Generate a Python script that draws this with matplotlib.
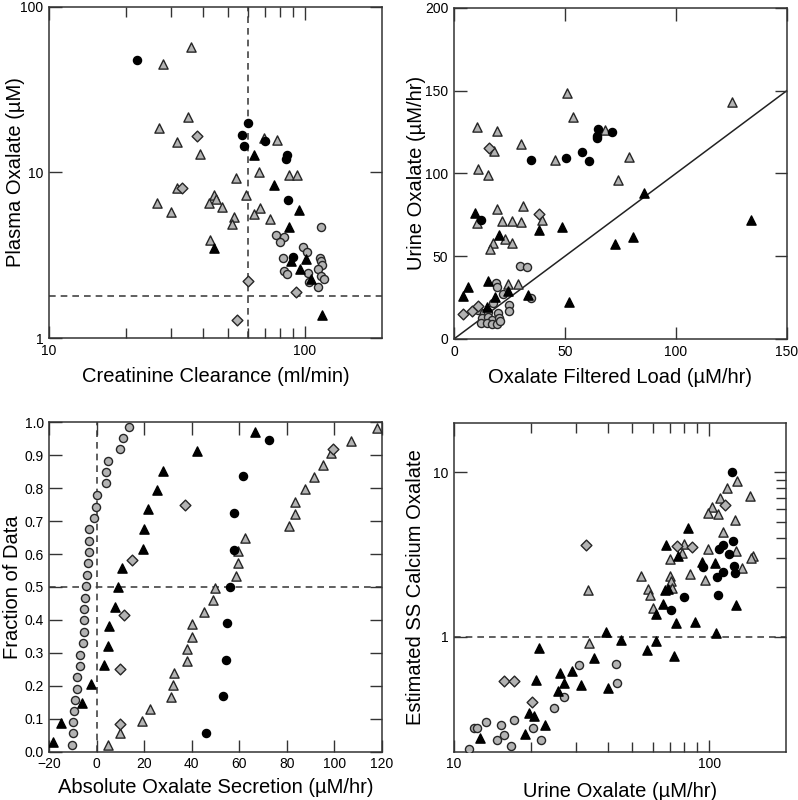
import matplotlib.pyplot as plt
from matplotlib.ticker import FixedLocator, NullFormatter

plt.rcParams['font.family'] = ['Liberation Sans', 'DejaVu Sans']

# ---- top left: plasma oxalate vs creatinine clearance ----
tl_bc_x = [22, 60, 57, 58, 69.5, 85, 84, 86, 89.5]
tl_bc_y = [48, 19.8, 16.9, 14.5, 15.5, 12.7, 12.1, 6.8, 3.1]
tl_bt_x = [63, 76, 95, 87, 44, 88, 101, 95.5, 106, 117]
tl_bt_y = [12.8, 8.4, 5.9, 4.7, 3.5, 2.9, 3.0, 2.6, 2.27, 1.38]
tl_gc_x = [116, 77, 83, 80, 98, 102, 82, 114, 116, 117, 112, 83, 85, 103, 116, 119, 104, 112]
tl_gc_y = [4.7, 4.2, 4.1, 3.8, 3.55, 3.3, 3.05, 3.05, 2.9, 2.75, 2.6, 2.55, 2.44, 2.47, 2.36, 2.27, 2.17, 2.02]
tl_gt_x = [28, 36, 27, 35, 31.5, 39, 69, 78, 66, 87, 93, 54, 31.6, 44, 45, 59,
           26.5, 30, 42, 47.5, 66.5, 63, 53, 52, 73, 42.5]
tl_gt_y = [45, 57, 18.6, 21.6, 15.2, 13, 16.2, 15.6, 10, 9.7, 9.6, 9.3, 8.1, 7.3, 6.9, 7.3,
           6.5, 5.8, 6.5, 6.2, 6.1, 5.6, 5.4, 4.9, 5.2, 3.9]
tl_gd_x = [38, 33, 60, 92.5, 54.5]
tl_gd_y = [16.5, 8.1, 2.2, 1.9, 1.29]

# ---- top right: urine oxalate vs filtered load ----
tr_bc_x = [34.7, 50.5, 57.7, 61, 65, 64.6, 64.5, 71.4, 12.2]
tr_bc_y = [108.1, 109.5, 113.1, 107.3, 126.9, 122.8, 121.2, 124.8, 72]
tr_bt_x = [85.6, 9.3, 20.3, 38.3, 48.8, 72.5, 80.6, 133.8, 51.9, 4.2, 6.5, 15.5, 24.5, 18.5, 33.5, 14.9]
tr_bt_y = [88.1, 75.8, 62.9, 65.9, 67.8, 57.3, 61.7, 72, 22.4, 26, 31.3, 35.3, 29.2, 25.6, 26.8, 19.4]
tr_gc_x = [29.9, 32.9, 19.1, 19.5, 22, 34.9, 17.7, 24.7, 24.8, 11, 13.7, 15.5, 20, 12.8, 15.5,
           17.3, 20.3, 12.2, 14.9, 17.3, 19.4, 20.7]
tr_gc_y = [44.2, 43.4, 33.7, 31.3, 27.2, 25, 22, 20.6, 16.8, 17.5, 15.5, 16.5, 15.5, 12.5, 13.5,
           11.5, 12.5, 9.9, 9.5, 8.9, 9.1, 11.1]
tr_gt_x = [10.4, 10.7, 15.3, 17.9, 19.3, 30.1, 45.7, 51, 53.8, 68, 78.8, 73.8, 125.3, 10.2, 19.3,
           21.5, 23, 17.4, 16.2, 26.3, 26, 31.1, 30.4, 39.7, 24.2, 28.7]
tr_gt_y = [128.1, 102.7, 99, 113.3, 125.8, 117.8, 108.1, 148.6, 134.1, 126.2, 109.9, 96, 142.8, 69.8, 78.5,
           71.2, 60.5, 57.9, 54.4, 71.2, 58.1, 80.3, 70.8, 71.8, 33.1, 33.1]
tr_gd_x = [15.9, 38.3, 4.2, 8.1, 10.7]
tr_gd_y = [115.5, 75.6, 15.3, 17.1, 20.1]

# ---- bottom left: cumulative fraction of secretion ----
bl_gc_x = [13.6, 11.0, 9.9, 4.9, 4.0, 3.9, 0, -0.3, -1.0, -3.2, -3.2, -3.4, -3.7, -4.0, -4.4,
           -4.8, -5.3, -5.3, -5.5, -5.9, -7.1, -7.1, -8.2, -8.5, -9.2, -9.6, -9.9, -10.1, -10.4]
bl_gc_y = [0.987, 0.951, 0.918, 0.883, 0.848, 0.815, 0.778, 0.744, 0.709, 0.676, 0.641, 0.606, 0.572,
           0.536, 0.503, 0.466, 0.432, 0.399, 0.363, 0.329, 0.294, 0.260, 0.226, 0.191, 0.158, 0.124,
           0.089, 0.056, 0.021]
bl_bt_x = [66.5, 42.2, 27.8, 25.5, 21.7, 20, 19.3, 10.7, 8.9, 7.5, 5.0, 4.9, 3.0, -2.6, -6.4, -15.1, -18.6]
bl_bt_y = [0.971, 0.912, 0.853, 0.794, 0.736, 0.676, 0.616, 0.558, 0.499, 0.438, 0.382, 0.322,
           0.264, 0.206, 0.147, 0.088, 0.029]
bl_bc_x = [72.4, 61.5, 57.9, 57.9, 56.1, 54.7, 54.3, 53.0, 46.0]
bl_bc_y = [0.946, 0.836, 0.724, 0.612, 0.500, 0.390, 0.278, 0.168, 0.058]
bl_gd_x = [99.4, 37.2, 14.7, 11.6, 9.8, 9.8]
bl_gd_y = [0.918, 0.750, 0.582, 0.416, 0.250, 0.084]
bl_gt_x = [117.9, 107.1, 98.7, 95.4, 91.6, 87.7, 83.5, 83.5, 80.8, 62.4, 59.5, 59.4, 58.8, 49.8,
           49, 45.2, 40.2, 40.1, 38, 37.9, 32.4, 32, 31.4, 22.4, 19.2, 9.8, 4.9]
bl_gt_y = [0.981, 0.943, 0.906, 0.869, 0.833, 0.797, 0.759, 0.721, 0.684, 0.648, 0.610, 0.572, 0.534,
           0.498, 0.461, 0.423, 0.387, 0.349, 0.313, 0.275, 0.239, 0.202, 0.165, 0.130, 0.092, 0.056, 0.019]

# ---- bottom right: SS calcium oxalate vs urine oxalate ----
br_bc_x = [123, 113, 109, 124, 120, 94.5, 125, 126, 113, 107, 80, 108, 71]
br_bc_y = [10, 3.62, 3.43, 3.8, 3.17, 2.67, 2.7, 2.45, 2.49, 2.29, 1.75, 1.8, 1.46]
br_gt_x = [129, 118, 144, 110, 103, 99, 108, 126, 113, 80, 99, 127, 149, 146, 78, 70, 135, 84, 96,
           54, 70.5, 71, 71.5, 33.4, 57.5, 58.4, 60, 33.7]
br_gt_y = [8.8, 8.0, 7.2, 7.0, 6.1, 5.65, 5.6, 5.1, 4.3, 3.66, 3.4, 3.3, 3.08, 3.0, 3.24, 2.96, 2.62,
           2.42, 2.2, 2.35, 2.35, 2.17, 1.97, 1.93, 1.95, 1.78, 1.5, 0.92]
br_bt_x = [83, 67.6, 75.5, 94, 105, 67.3, 69, 66, 62, 128, 74, 88, 106, 39.4, 45, 62, 57, 73, 21.6,
           35.4, 29, 26, 21, 27, 31.6, 40, 25.6, 19.6, 20.5, 22.7, 18.9, 12.6]
br_bt_y = [4.6, 3.6, 3.08, 2.85, 2.8, 1.93, 1.95, 1.57, 1.37, 1.56, 1.21, 1.22, 1.05, 1.07, 0.96,
           0.94, 0.83, 0.76, 0.85, 0.74, 0.62, 0.60, 0.545, 0.525, 0.51, 0.485, 0.47, 0.344, 0.33,
           0.29, 0.256, 0.243]
br_gd_x = [115, 33, 75, 86, 15.7, 17.2, 20.2]
br_gd_y = [6.3, 3.6, 3.55, 3.5, 0.535, 0.535, 0.40]
br_gc_x = [31, 43, 43.4, 27, 24.6, 20.4, 12, 12.3, 13.4, 15.3, 17.2, 15.7, 14.8, 21.9, 16.7, 11.4]
br_gc_y = [0.67, 0.68, 0.52, 0.43, 0.37, 0.28, 0.278, 0.28, 0.305, 0.29, 0.31, 0.254, 0.234, 0.234,
           0.217, 0.209]

GRAY = '#b3b3b3'
EDGE = '#262626'
DASH = (0, (4, 3))

STYLES = {
    'gc': dict(marker='o', s=34, c=GRAY, edgecolors=EDGE),
    'gt': dict(marker='^', s=44, c=GRAY, edgecolors=EDGE),
    'gd': dict(marker='D', s=30, c=GRAY, edgecolors=EDGE),
    'bt': dict(marker='^', s=44, c='black', edgecolors='black'),
    'bc': dict(marker='o', s=34, c='black', edgecolors='black'),
}


def pts(ax, x, y, kind):
    ax.scatter(x, y, linewidths=1.0, zorder=3, **STYLES[kind])


def frame(ax):
    for s in ax.spines.values():
        s.set_linewidth(1.1)
        s.set_color('#333333')
    ax.tick_params(which='both', direction='in', top=True, right=True,
                   labelsize=10, width=1.0, color='#333333', pad=4)
    ax.tick_params(which='major', length=9)
    ax.tick_params(which='minor', length=7)


fig = plt.figure(figsize=(7.98, 8.0), dpi=100)
LABEL = 14.5

# top left
ax = fig.add_axes([0.0614, 0.5775, 0.4173, 0.414])
ax.set_xscale('log')
ax.set_yscale('log')
ax.set_xlim(10, 200)
ax.set_ylim(1, 100)
ax.axvline(60, color='#444444', ls=DASH, lw=1.2, zorder=1)
ax.axhline(1.8, color='#444444', ls=DASH, lw=1.2, zorder=1)
pts(ax, tl_gt_x, tl_gt_y, 'gt')
pts(ax, tl_gc_x, tl_gc_y, 'gc')
pts(ax, tl_gd_x, tl_gd_y, 'gd')
pts(ax, tl_bt_x, tl_bt_y, 'bt')
pts(ax, tl_bc_x, tl_bc_y, 'bc')
ax.xaxis.set_major_locator(FixedLocator([10, 100]))
ax.xaxis.set_minor_locator(FixedLocator([20, 30, 40, 50, 60, 70, 80, 90]))
ax.set_xticklabels(['10', '100'])
ax.xaxis.set_minor_formatter(NullFormatter())
ax.yaxis.set_major_locator(FixedLocator([1, 10, 100]))
ax.yaxis.set_minor_locator(FixedLocator([]))
ax.set_yticklabels(['1', '10', '100'])
frame(ax)
ax.set_xlabel('Creatinine Clearance (ml/min)', fontsize=LABEL, labelpad=7)
ax.set_ylabel('Plasma Oxalate (µM)', fontsize=LABEL)
ax.yaxis.set_label_coords(-0.072, 0.5)

# top right
ax = fig.add_axes([0.5689, 0.5763, 0.4173, 0.414])
ax.set_xlim(0, 150)
ax.set_ylim(0, 200)
ax.plot([0, 150], [0, 150], color='#222222', lw=1.1, zorder=1)
pts(ax, tr_gt_x, tr_gt_y, 'gt')
pts(ax, tr_gc_x, tr_gc_y, 'gc')
pts(ax, tr_gd_x, tr_gd_y, 'gd')
pts(ax, tr_bt_x, tr_bt_y, 'bt')
pts(ax, tr_bc_x, tr_bc_y, 'bc')
ax.set_xticks([0, 50, 100, 150])
ax.set_yticks([0, 50, 100, 150, 200])
frame(ax)
ax.set_xlabel('Oxalate Filtered Load (µM/hr)', fontsize=LABEL, labelpad=7)
ax.set_ylabel('Urine Oxalate (µM/hr)', fontsize=LABEL)
ax.yaxis.set_label_coords(-0.085, 0.5)

# bottom left
ax = fig.add_axes([0.0618, 0.0604, 0.4166, 0.4118])
ax.set_xlim(-20, 120)
ax.set_ylim(0, 1.0)
ax.axvline(0, color='#444444', ls=DASH, lw=1.2, zorder=1)
ax.axhline(0.5, color='#444444', ls=DASH, lw=1.2, zorder=1)
pts(ax, bl_gt_x, bl_gt_y, 'gt')
pts(ax, bl_gc_x, bl_gc_y, 'gc')
pts(ax, bl_gd_x, bl_gd_y, 'gd')
pts(ax, bl_bt_x, bl_bt_y, 'bt')
pts(ax, bl_bc_x, bl_bc_y, 'bc')
ax.set_xticks(range(-20, 121, 20))
ax.set_yticks([i / 10 for i in range(11)])
ax.set_yticklabels(['%.1f' % (i / 10) for i in range(11)])
frame(ax)
ax.set_xlabel('Absolute Oxalate Secretion (µM/hr)', fontsize=LABEL, labelpad=5)
ax.set_ylabel('Fraction of Data', fontsize=LABEL)
ax.yaxis.set_label_coords(-0.082, 0.5)

# bottom right
ax = fig.add_axes([0.5689, 0.0604, 0.416, 0.4113])
ax.set_xscale('log')
ax.set_yscale('log')
ax.set_xlim(10, 200)
ax.set_ylim(0.2, 20)
ax.axhline(1, color='#444444', ls=DASH, lw=1.2, zorder=1)
pts(ax, br_gt_x, br_gt_y, 'gt')
pts(ax, br_gc_x, br_gc_y, 'gc')
pts(ax, br_gd_x, br_gd_y, 'gd')
pts(ax, br_bt_x, br_bt_y, 'bt')
pts(ax, br_bc_x, br_bc_y, 'bc')
ax.xaxis.set_major_locator(FixedLocator([10, 100]))
ax.xaxis.set_minor_locator(FixedLocator([20, 30, 40, 50, 60, 70, 80, 90]))
ax.set_xticklabels(['10', '100'])
ax.xaxis.set_minor_formatter(NullFormatter())
ax.yaxis.set_major_locator(FixedLocator([1, 10]))
ax.yaxis.set_minor_locator(FixedLocator([2, 3, 4, 5, 6, 7, 8, 9]))
ax.set_yticklabels(['1', '10'])
ax.yaxis.set_minor_formatter(NullFormatter())
frame(ax)
ax.tick_params(axis='y', which='minor', left=False)
ax.set_xlabel('Urine Oxalate (µM/hr)', fontsize=LABEL, labelpad=8)
ax.set_ylabel('Estimated SS Calcium Oxalate', fontsize=LABEL)
ax.yaxis.set_label_coords(-0.087, 0.5)

fig.savefig('out.png', dpi=100)
